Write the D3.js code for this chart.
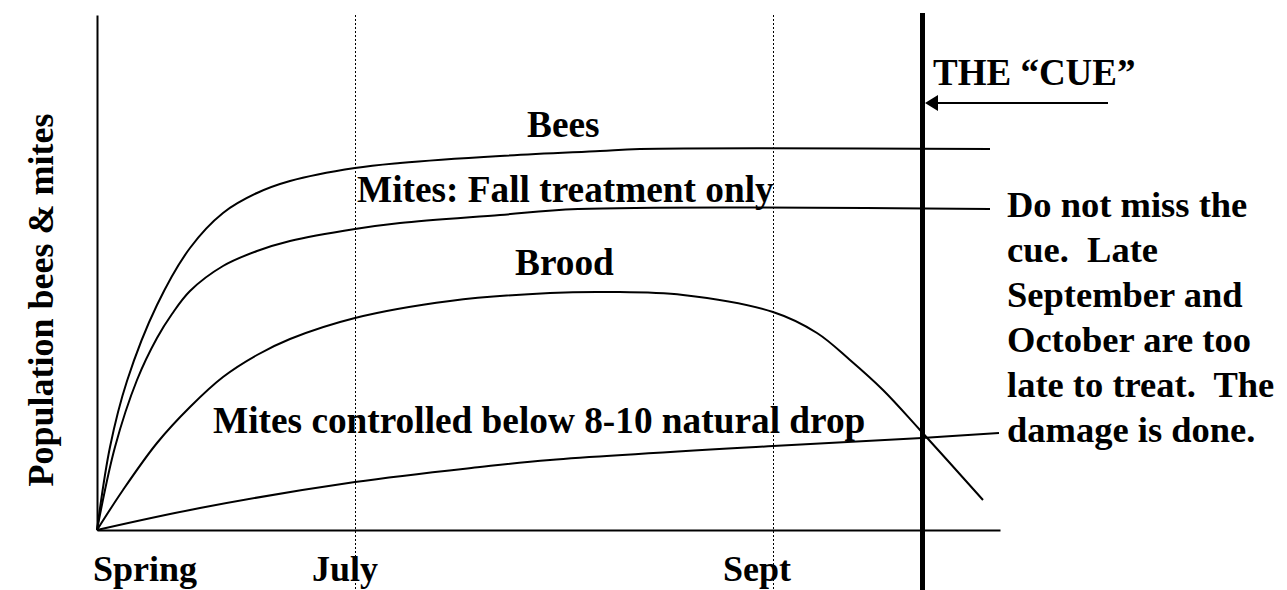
<!DOCTYPE html>
<html>
<head>
<meta charset="utf-8">
<script src="https://cdn.jsdelivr.net/npm/d3@7"></script>
<style>
  html, body { margin: 0; padding: 0; background: #fff; }
  svg { display: block; }
  text { font-family: "Liberation Serif", "Times New Roman", serif; font-weight: bold; font-size: 36px; fill: #000; }
</style>
</head>
<body>
<svg id="chart" width="1287" height="590"></svg>
<script>
// ---- data (arbitrary time / population units) ----
const beesX  = [0, 13, 30, 60, 93, 126, 160, 193, 258, 303, 403, 503, 543, 893];
const beesY  = [0, 83, 149, 225, 282, 317, 337, 349, 362, 367, 374, 379, 381, 381];

const mitesFallX = [0, 18, 40, 60, 75, 93, 126, 160, 193, 258, 303, 403, 481, 893];
const mitesFallY = [0, 83, 150, 192, 216, 239, 264, 279, 289, 301, 307, 315, 321, 321];

const broodX = [0, 26, 60, 93, 126, 160, 193, 258, 353, 453, 513, 586, 676, 720, 753, 786, 823, 886];
const broodY = [0, 40, 87, 123, 153, 175, 191, 212, 229, 237, 238, 235, 218, 197, 170, 140, 100, 30];

const mitesCtrlX = [0, 103, 258, 383, 453, 676, 825, 902];
const mitesCtrlY = [0, 22, 48, 63, 70, 84, 92, 97];

const tickLabels = ["Spring", "July", "Sept"];
const tickValues = [0, 258, 676];
const gridValues = [258, 676];     // dotted month markers
const cueValue = 825.5;            // THE "CUE"

const seriesLabels = ["Bees", "Mites: Fall treatment only", "Brood", "Mites controlled below 8-10 natural drop"];
const yTitle = "Population bees & mites";
const cueTitle = "THE \u201CCUE\u201D";
const noteLines = ["Do not miss the", "cue.  Late", "September and", "October are too", "late to treat.  The", "damage is done."];

// ---- scales ----
const x = d3.scaleLinear().domain([0, 903]).range([97, 1000]);
const y = d3.scaleLinear().domain([0, 515]).range([530, 15]);

const svg = d3.select("#chart");

// dotted guide lines
svg.selectAll("line.grid").data(gridValues).enter().append("line")
  .attr("class", "grid")
  .attr("x1", d => Math.round(x(d)) + 0.5).attr("x2", d => Math.round(x(d)) + 0.5)
  .attr("y1", y(515)).attr("y2", 590)
  .attr("stroke", "#000").attr("stroke-width", 1)
  .attr("stroke-dasharray", "2,2");

// axes
const xAxis = d3.axisBottom(x).tickValues([]).tickSizeOuter(0);
const yAxis = d3.axisLeft(y).tickValues([]).tickSizeOuter(0);
svg.append("g").attr("transform", `translate(0,${y(0)})`).call(xAxis)
  .select(".domain").attr("stroke", "#000").attr("stroke-width", 2);
svg.append("g").attr("transform", `translate(${x(0)},0)`).call(yAxis)
  .select(".domain").attr("stroke", "#000").attr("stroke-width", 2);

// curves
const line = d3.line().x(d => x(d[0])).y(d => y(d[1])).curve(d3.curveCatmullRom.alpha(0.5));
const series = [
  [beesX, beesY],
  [mitesFallX, mitesFallY],
  [broodX, broodY],
  [mitesCtrlX, mitesCtrlY]
];
svg.selectAll("path.series").data(series).enter().append("path")
  .attr("class", "series")
  .attr("d", s => line(s[0].map((v, i) => [v, s[1][i]])))
  .attr("fill", "none").attr("stroke", "#000").attr("stroke-width", 2);

// the cue line
svg.append("line")
  .attr("x1", x(cueValue)).attr("x2", x(cueValue))
  .attr("y1", y(517)).attr("y2", 590)
  .attr("stroke", "#000").attr("stroke-width", 5);

// arrow to the cue
const arrowY = 103;
svg.append("line")
  .attr("x1", 1108).attr("x2", x(cueValue) + 10)
  .attr("y1", arrowY).attr("y2", arrowY)
  .attr("stroke", "#000").attr("stroke-width", 2);
const tipX = x(cueValue) + 2.5;
svg.append("path")
  .attr("d", `M${tipX},${arrowY} L${tipX + 13},${arrowY - 8} L${tipX + 13},${arrowY + 8} Z`)
  .attr("fill", "#000");

// tick labels
const tickDx = [-4, -43, -50];
svg.selectAll("text.tick").data(tickLabels).enter().append("text")
  .attr("class", "tick")
  .attr("x", (d, i) => x(tickValues[i]) + tickDx[i])
  .attr("y", 581)
  .text(d => d);

// series labels
const labelPos = [[527, 137], [357, 202], [515, 275], [213, 433]];
svg.selectAll("text.slabel").data(seriesLabels).enter().append("text")
  .attr("class", "slabel")
  .attr("x", (d, i) => labelPos[i][0])
  .attr("y", (d, i) => labelPos[i][1])
  .style("font-size", "37.3px")
  .text(d => d);

// y title
svg.append("text")
  .attr("transform", "translate(53,300) rotate(-90)")
  .attr("text-anchor", "middle")
  .text(yTitle);

// cue title
svg.append("text").attr("x", 933).attr("y", 85).style("font-size", "37px").text(cueTitle);

// note block
svg.append("text").attr("x", 1007).attr("y", 217)
  .style("font-size", "36.5px")
  .selectAll("tspan").data(noteLines).enter().append("tspan")
  .attr("x", 1007).attr("dy", (d, i) => i === 0 ? 0 : 45)
  .attr("xml:space", "preserve")
  .style("white-space", "pre")
  .text(d => d);
</script>
</body>
</html>
